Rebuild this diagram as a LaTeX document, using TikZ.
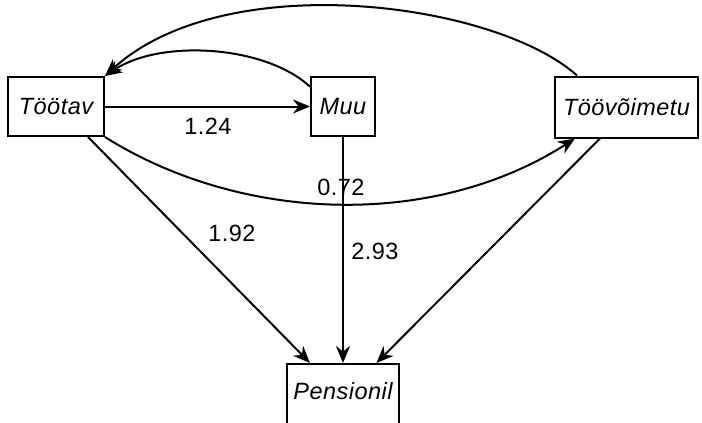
\documentclass[tikz,border=0pt]{standalone}
\usepackage{fontspec}
\setmainfont{Liberation Sans}
\usetikzlibrary{arrows.meta,calc}
\begin{document}
\begin{tikzpicture}[x=1pt,y=-1pt,
  box/.style={draw, line width=2pt, inner sep=0pt,
    font=\fontsize{23.5}{27}\selectfont\itshape\addfontfeatures{LetterSpace=2}},
  lbl/.style={inner sep=0pt,
    font=\fontsize{23.5}{27}\selectfont\addfontfeatures{LetterSpace=2}},
  arr/.style={line width=2pt, -{Stealth[length=17pt,width=14pt,inset=5.5pt]}}]
\useasboundingbox (0,0) rectangle (702,423);
\clip (0,0) rectangle (702,423);
% boxes
\node[box, minimum width=96pt, minimum height=59pt] (toot) at (56,106.5) {Töötav};
\node[box, minimum width=64pt, minimum height=59pt] (muu) at (343,106.5) {Muu};
\node[box, minimum width=143pt, minimum height=61pt] (tv) at (626.5,107) {Töövõimetu};
\node[box, minimum width=112pt, minimum height=62pt, text depth=8pt] (pens) at (343,395) {Pensionil};
% labels
\node[lbl] (l124) at (208,126) {1.24};
\node[lbl] (l072) at (341,187) {0.72};
\node[lbl] (l192) at (232,233) {1.92};
\node[lbl] (l293) at (375,251) {2.93};
% connectors
\draw[arr] (toot.east) -- (muu.west);
\draw[arr] (muu.149) .. controls (265,45) and (160,39) .. (toot.north east);
\draw[arr] ([xshift=-49.5pt]tv.north) .. controls (495,2) and (225,-34) .. (toot.north east);
\draw[arr] (toot.south east) .. controls (240,222) and (432,230) .. ([xshift=-51.5pt]tv.south);
\draw[arr] ([xshift=32pt]toot.south) -- ([xshift=-33pt]pens.north);
\draw[arr] (muu.south) -- (pens.north);
\draw[arr] ([xshift=-26.5pt]tv.south) -- ([xshift=33.5pt]pens.north);
\end{tikzpicture}
\end{document}
